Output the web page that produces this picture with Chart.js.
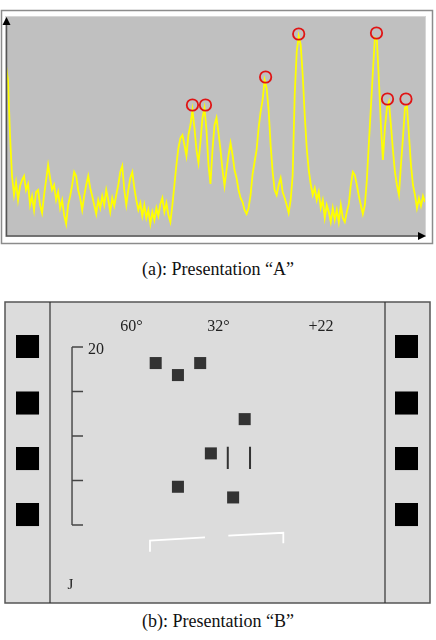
<!DOCTYPE html>
<html>
<head>
<meta charset="utf-8">
<script src="https://cdn.jsdelivr.net/npm/chart.js@4/dist/chart.umd.min.js"></script>
<style>
  body { margin: 0; width: 436px; height: 640px; background: #fff; position: relative; overflow: hidden; }
  canvas { position: absolute; left: 0; }
  #chartA { top: 0; }
  #chartB { top: 290px; }
  .cap { position: absolute; left: 0; width: 436px; text-align: center; font: 18px "Liberation Serif", "Times New Roman", serif; color: #111; }
</style>
</head>
<body>
<canvas id="chartA" width="436" height="250"></canvas>
<div class="cap" style="top:259px">(a): Presentation “A”</div>
<canvas id="chartB" width="436" height="320"></canvas>
<div class="cap" style="top:611px">(b): Presentation “B”</div>

<script>
// ---- presentation A : signal level per sample ----
const signal = [
  170, 156, 101, 60, 41, 54, 36, 50, 56, 60,
  46, 52, 31, 40, 26, 44, 46, 31, 23, 41,
  56, 71, 58, 46, 51, 36, 44, 28, 36, 21,
  12, 31, 40, 51, 64, 60, 46, 38, 26, 40,
  51, 60, 48, 40, 31, 22, 36, 28, 40, 31,
  46, 36, 24, 38, 30, 41, 51, 64, 70, 46,
  31, 46, 58, 64, 48, 36, 26, 33, 20, 31,
  18, 26, 12, 24, 16, 28, 20, 32, 38, 24,
  33, 21, 14, 31, 51, 71, 88, 98, 101, 91,
  80, 101, 111, 126, 108, 86, 73, 94, 118, 128,
  106, 71, 52, 86, 111, 118, 103, 86, 66, 50,
  66, 81, 93, 81, 66, 58, 46, 38, 34, 26,
  22, 28, 41, 62, 74, 86, 108, 124, 136, 156,
  148, 126, 91, 64, 46, 41, 51, 58, 44, 38,
  31, 23, 36, 61, 141, 184, 200, 191, 161, 121,
  88, 66, 52, 41, 48, 36, 44, 28, 36, 18,
  31, 24, 14, 28, 16, 26, 14, 31, 18, 14,
  24, 32, 51, 64, 61, 51, 40, 31, 22, 31,
  56, 93, 128, 164, 198, 196, 156, 111, 76, 108,
  128, 134, 111, 86, 64, 51, 41, 71, 98, 128,
  130, 101, 71, 51, 41, 28, 38, 30, 40, 34
];
// detected peaks (sample index, level)
const peakIndex = [93, 99.5, 129.5, 146, 184.8, 190.3, 199.5];
const peakLevel = [131, 131, 159, 202, 203, 137, 137];

// ---- presentation B : contacts on the display ----
const contactX = [9.4, 11.9, 14.4, 19.4, 15.6, 11.9, 18.1];
const contactY = [18.2, 16.85, 18.2, 11.9, 8.05, 4.3, 3.1];
const markX = [17.5, 20.0];
const markTop = [8.8, 8.8];
const markBottom = [6.3, 6.3];
const bracketLeftX = [8.76, 8.76, 14.94];
const bracketLeftY = [-3.0, -1.76, -1.38];
const bracketRightX = [17.56, 23.74, 23.74];
const bracketRightY = [-1.2, -0.87, -2.06];
const stripX = [-5.0, 37.58];
const stripY = [20.06, 13.71, 7.47, 1.18];
const rangeTicks = [0, 5, 10, 15, 20];
const rangeLabel = '20';
const headingX = [6.69, 16.46, 27.98];
const headingLabels = ['60°', '32°', '+22'];
const cornerLabel = 'J';

const serif = '"Liberation Serif", "Times New Roman", serif';

// frame, grey field and arrowed axes for A
const panelA = {
  id: 'panelA',
  beforeDraw(chart) {
    const { ctx, chartArea: a } = chart;
    ctx.save();
    ctx.strokeStyle = '#8c8c8c';
    ctx.lineWidth = 1.5;
    ctx.strokeRect(1.5, 10.5, 431, 233);
    ctx.fillStyle = '#c0c0c0';
    ctx.fillRect(a.left, a.top, a.right - a.left, a.bottom - a.top);
    ctx.strokeStyle = '#d6d6d6';
    ctx.lineWidth = 1;
    ctx.strokeRect(a.left - 0.5, a.top - 0.5, a.right - a.left + 1, a.bottom - a.top + 1);
    ctx.restore();
  },
  afterDraw(chart) {
    const { ctx, chartArea: a } = chart;
    ctx.save();
    ctx.strokeStyle = '#555';
    ctx.lineWidth = 1.5;
    ctx.beginPath();
    ctx.moveTo(a.left + 0.5, a.top + 4);
    ctx.lineTo(a.left + 0.5, a.bottom);
    ctx.lineTo(a.right - 4, a.bottom);
    ctx.stroke();
    ctx.fillStyle = '#000';
    ctx.beginPath();
    ctx.moveTo(a.left + 0.5, a.top);
    ctx.lineTo(a.left + 4.5, a.top + 8);
    ctx.lineTo(a.left - 3.5, a.top + 8);
    ctx.closePath();
    ctx.fill();
    ctx.beginPath();
    ctx.moveTo(a.right + 1, a.bottom);
    ctx.lineTo(a.right - 7, a.bottom - 4);
    ctx.lineTo(a.right - 7, a.bottom + 4);
    ctx.closePath();
    ctx.fill();
    ctx.restore();
  }
};

new Chart(document.getElementById('chartA'), {
  type: 'line',
  data: {
    datasets: [
      {
        type: 'scatter',
        data: peakIndex.map((x, i) => ({ x: x, y: peakLevel[i] })),
        showLine: false,
        pointRadius: 5.7,
        pointBorderWidth: 1.8,
        pointBorderColor: '#e01414',
        pointBackgroundColor: 'rgba(0,0,0,0)',
        clip: false
      },
      {
        data: signal.map((v, i) => ({ x: i, y: v })),
        borderColor: '#ffff00',
        borderWidth: 1.8,
        pointRadius: 0,
        tension: 0
      }
    ]
  },
  options: {
    responsive: false,
    animation: false,
    layout: { autoPadding: false, padding: { left: 6, top: 17, right: 11, bottom: 14 } },
    plugins: { legend: { display: false }, tooltip: { enabled: false } },
    scales: {
      x: { type: 'linear', display: false, min: 0, max: signal.length - 1 },
      y: { display: false, min: 0, max: 219 }
    }
  },
  plugins: [panelA]
});

// display background, side strips, range scale and labels for B
const panelB = {
  id: 'panelB',
  beforeDraw(chart) {
    const { ctx, chartArea: a } = chart;
    ctx.save();
    ctx.fillStyle = '#dcdcdc';
    ctx.fillRect(a.left, a.top, a.right - a.left, a.bottom - a.top);
    ctx.strokeStyle = '#555';
    ctx.lineWidth = 1.5;
    ctx.strokeRect(a.left, a.top, a.right - a.left, a.bottom - a.top);
    ctx.strokeStyle = '#333';
    ctx.lineWidth = 1.2;
    ctx.beginPath();
    ctx.moveTo(a.left + 45, a.top);
    ctx.lineTo(a.left + 45, a.bottom);
    ctx.moveTo(a.right - 45, a.top);
    ctx.lineTo(a.right - 45, a.bottom);
    ctx.stroke();
    ctx.restore();
  },
  afterDatasetsDraw(chart) {
    const { ctx, scales: { x, y } } = chart;
    const x0 = x.getPixelForValue(0);
    const top = y.getPixelForValue(rangeTicks[rangeTicks.length - 1]);
    const bottom = y.getPixelForValue(rangeTicks[0]);
    ctx.save();
    ctx.strokeStyle = '#444';
    ctx.lineWidth = 1.4;
    ctx.beginPath();
    ctx.moveTo(x0, top);
    ctx.lineTo(x0, bottom);
    rangeTicks.forEach(t => {
      const py = y.getPixelForValue(t);
      ctx.moveTo(x0, py);
      ctx.lineTo(x0 + 11, py);
    });
    ctx.stroke();
    ctx.fillStyle = '#222';
    ctx.font = '16px ' + serif;
    ctx.textBaseline = 'alphabetic';
    ctx.textAlign = 'left';
    ctx.fillText(rangeLabel, x0 + 16, top + 7);
    ctx.textAlign = 'center';
    headingX.forEach((hx, i) => {
      ctx.fillText(headingLabels[i], x.getPixelForValue(hx), y.getPixelForValue(21.8));
    });
    ctx.font = '15px ' + serif;
    ctx.fillText(cornerLabel, x0 - 1.5, y.getPixelForValue(-7.2));
    ctx.restore();
  }
};

const stripPoints = [];
stripX.forEach(sx => stripY.forEach(sy => stripPoints.push({ x: sx, y: sy })));

new Chart(document.getElementById('chartB'), {
  type: 'scatter',
  data: {
    datasets: [
      {
        data: stripPoints,
        pointStyle: 'rect',
        pointRadius: 16.3,
        pointBorderWidth: 0,
        pointBackgroundColor: '#000'
      },
      {
        data: contactX.map((cx, i) => ({ x: cx, y: contactY[i] })),
        pointStyle: 'rect',
        pointRadius: 8.5,
        pointBorderWidth: 0,
        pointBackgroundColor: '#333'
      },
      ...markX.map((mx, i) => ({
        data: [{ x: mx, y: markTop[i] }, { x: mx, y: markBottom[i] }],
        showLine: true,
        borderColor: '#333',
        borderWidth: 2,
        pointRadius: 0
      })),
      {
        data: bracketLeftX.map((bx, i) => ({ x: bx, y: bracketLeftY[i] })),
        showLine: true,
        borderColor: '#fff',
        borderWidth: 1.8,
        pointRadius: 0
      },
      {
        data: bracketRightX.map((bx, i) => ({ x: bx, y: bracketRightY[i] })),
        showLine: true,
        borderColor: '#fff',
        borderWidth: 1.8,
        pointRadius: 0
      }
    ]
  },
  options: {
    responsive: false,
    animation: false,
    layout: { autoPadding: false, padding: { left: 5, top: 12, right: 6, bottom: 7 } },
    plugins: { legend: { display: false }, tooltip: { enabled: false } },
    scales: {
      x: { type: 'linear', display: false, min: -7.53, max: 40.22 },
      y: { type: 'linear', display: false, min: -8.76, max: 25.06 }
    }
  },
  plugins: [panelB]
});
</script>
</body>
</html>
